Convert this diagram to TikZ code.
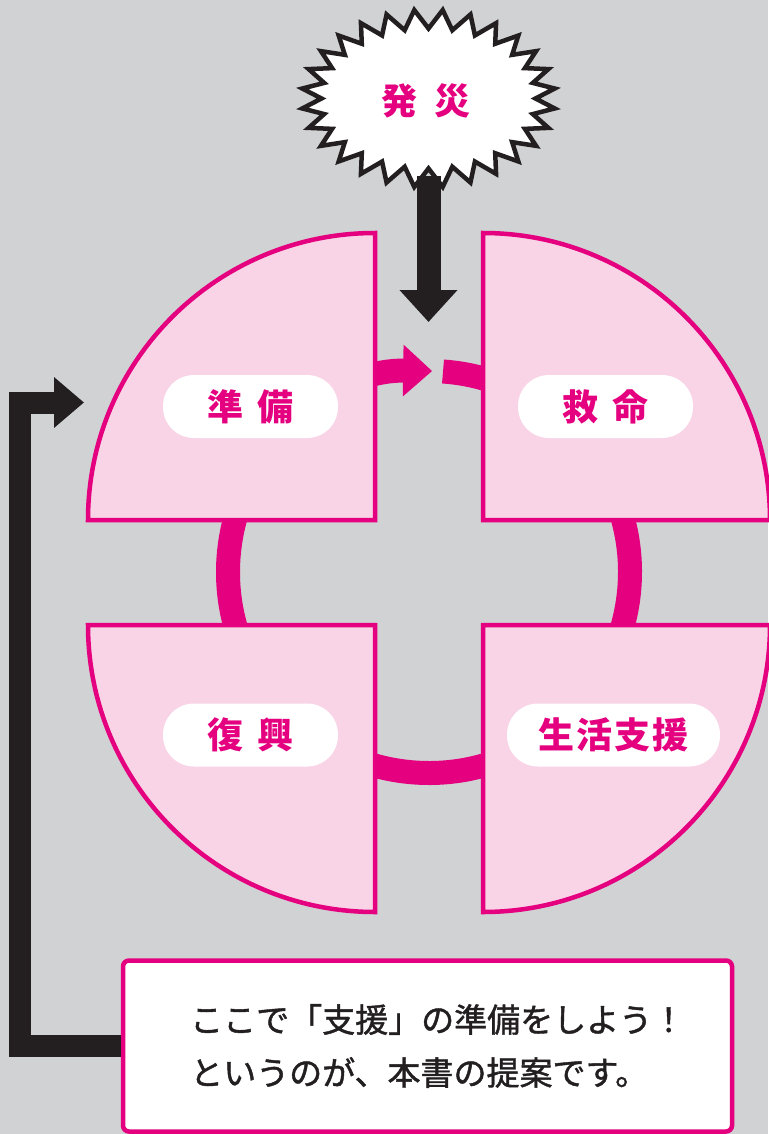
\documentclass[tikz,border=0pt]{standalone}
\usepackage{fontspec}
\newfontfamily\jp{Noto Sans CJK JP}
\newfontfamily\jpnote{Noto Sans CJK JP}[FakeBold=1.3]
\usetikzlibrary{arrows.meta,calc}
\definecolor{bg}{HTML}{D1D2D4}
\definecolor{mag}{HTML}{E4007F}
\definecolor{pinkfill}{HTML}{F9D4E6}
\definecolor{ink}{HTML}{231F20}
\begin{document}
\begin{tikzpicture}[x=1pt,y=1pt,
  quarter/.style={draw=mag, line width=4.5pt, fill=pinkfill, line join=miter},
  pill/.style={fill=white, rounded corners=31pt, minimum width=175pt, minimum height=63pt, inner sep=0pt, text=mag, font=\jp\bfseries\fontsize{36}{36}\selectfont},
  ringline/.style={draw=mag, line width=24pt},
  blk/.style={draw=ink, line join=miter},
  burst/.style={draw=ink, line width=4.5pt, fill=white, line join=miter},
  notebox/.style={draw=mag, line width=4.5pt, fill=white, rounded corners=6pt, minimum width=609pt, minimum height=171pt, inner sep=0pt},
  notetext/.style={anchor=west, inner sep=0pt, align=left, text=ink, font=\jpnote\fontsize{33}{53}\selectfont}
]
\useasboundingbox (0,0) rectangle (768,-1134);
\fill[bg] (0,0) rectangle (768,-1134);

% ring
\coordinate (rc) at (429,-572);
\coordinate (rs) at ($(rc)+(86:201)$);
\draw[ringline, -{Triangle[length=29pt,width=50pt]}] (rs) arc[start angle=86, end angle=-270.9, radius=201];

% quarters
\draw[quarter] (375,-520) -- (88,-520) arc[start angle=180, end angle=90, radius=287] -- cycle;
\draw[quarter] (483,-520) -- (483,-233) arc[start angle=90, end angle=0, radius=287] -- cycle;
\draw[quarter] (375,-625) -- (88,-625) arc[start angle=180, end angle=270, radius=287] -- cycle;
\draw[quarter] (483,-625) -- (770,-625) arc[start angle=0, end angle=-90, radius=287] -- cycle;

% labels
\node[pill] (junbi) at (250.5,-406.5) {準\hspace{14pt}備};
\node[pill] (kyumei) at (605.5,-406.5) {救\hspace{14pt}命};
\node[pill] (fukko) at (250.5,-735) {復\hspace{14pt}興};
\node[pill, minimum width=213pt] (seikatsu) at (613.5,-735) {生\hspace{2pt}活\hspace{2pt}支\hspace{2pt}援};

% note box and L arrow
\node[notebox] (box) at (427.5,-1046) {};
\coordinate (lcorner) at (19.5,-402.5);
\coordinate (prepin) at (84,-402.5);
\draw[blk, line width=22pt, -{Triangle[length=30pt,width=49pt]}] (box.west) -| (lcorner) -- (prepin);
\node[notetext] (note) at (190,-1046) {ここで「支援」の準備をしよう！\\というのが、本書の提案です。};

% starburst
\foreach \i in {0,...,55}{
  \pgfmathsetmacro\ang{6.4285714*\i}
  \pgfmathsetmacro\sgn{-cos(180*\i)}
  \pgfmathsetmacro\bx{428.5+(117+10*\sgn)*cos(\ang)}
  \pgfmathsetmacro\by{-98.5+(79.5+9.5*\sgn)*sin(\ang)}
  \coordinate (b\i) at (\bx,\by);
}
\draw[burst] (b0) \foreach \i in {1,...,55}{ -- (b\i)} -- cycle;
\node[text=mag, font=\jp\bfseries\fontsize{36}{36}\selectfont, inner sep=0pt] (hassai) at (426,-101) {発\hspace{17pt}災};
\coordinate (burstbot) at (428.5,-176);
\coordinate (downtip) at (428.5,-322);
\draw[blk, line width=24pt, -{Triangle[length=32pt,width=56pt]}] (burstbot) -- (downtip);
\end{tikzpicture}
\end{document}
